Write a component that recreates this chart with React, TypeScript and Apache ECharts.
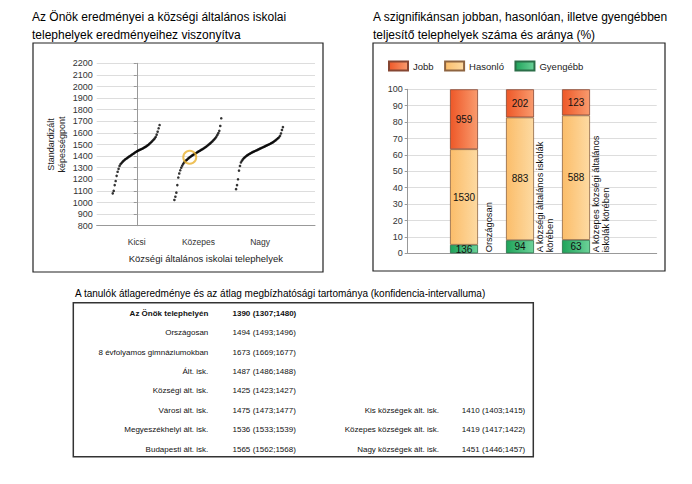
import React, { useEffect, useRef } from "react";
import * as echarts from "echarts";

// ---------- data: left chart (ranked school results) ----------
const groupNames = ["Kicsi", "Közepes", "Nagy"];
const kicsiScores = [1079, 1100, 1150, 1185, 1230, 1265, 1290, 1315, 1330, 1340, 1350, 1358, 1366, 1373, 1379, 1385, 1391, 1397, 1402, 1408, 1414, 1420, 1426, 1432, 1437, 1442, 1447, 1451, 1455, 1459, 1463, 1467, 1472, 1477, 1482, 1488, 1494, 1501, 1509, 1517, 1525, 1534, 1543, 1552, 1565, 1585, 1610, 1640, 1668];
const kozepesScores = [1022, 1050, 1085, 1150, 1215, 1250, 1278, 1300, 1318, 1333, 1345, 1355, 1363, 1370, 1378, 1385, 1392, 1398, 1404, 1410, 1415, 1420, 1425, 1431, 1436, 1441, 1446, 1451, 1456, 1461, 1466, 1472, 1478, 1484, 1491, 1498, 1505, 1512, 1520, 1528, 1537, 1546, 1556, 1568, 1582, 1598, 1618, 1660, 1726];
const nagyScores = [1115, 1150, 1200, 1275, 1315, 1345, 1360, 1372, 1382, 1390, 1397, 1404, 1410, 1415, 1420, 1425, 1430, 1434, 1438, 1442, 1446, 1450, 1454, 1458, 1462, 1466, 1470, 1474, 1478, 1482, 1486, 1490, 1494, 1498, 1502, 1506, 1511, 1516, 1521, 1527, 1533, 1540, 1547, 1554, 1562, 1575, 1595, 1625, 1650];
const schoolGroupIndex = 1;
const scoreAxisMin = 800;
const scoreAxisMax = 2200;
const scoreAxisInterval = 100;

// ---------- data: right chart ----------
const levelNames = ["Jobb", "Hasonló", "Gyengébb"];
const compCategories = ["Országosan", "A községi általános iskolák\nkörében", "A közepes községi általános\niskolák körében"];
const jobbCounts = [959, 202, 123];
const hasonloCounts = [1530, 883, 588];
const gyengebbCounts = [136, 94, 63];

// ---------- data: table ----------
const tableLabels = ["Az Önök telephelyén", "Országosan", "8 évfolyamos gimnáziumokban", "Ált. isk.", "Községi ált. isk.", "Városi ált. isk.", "Megyeszékhelyi ált. isk.", "Budapesti ált. isk."];
const tableMeans = [1390, 1494, 1673, 1487, 1425, 1475, 1536, 1565];
const tableLows = [1307, 1493, 1669, 1486, 1423, 1473, 1533, 1562];
const tableHighs = [1480, 1496, 1677, 1488, 1427, 1477, 1539, 1568];
const sideLabels = ["Kis községek ált. isk.", "Közepes községek ált. isk.", "Nagy községek ált. isk."];
const sideMeans = [1410, 1419, 1451];
const sideLows = [1403, 1417, 1446];
const sideHighs = [1415, 1422, 1457];

const leftTitle = "Az Önök eredményei a községi általános iskolai\ntelephelyek eredményeihez viszonyítva";
const rightTitle = "A szignifikánsan jobban, hasonlóan, illetve gyengébben\nteljesítő telephelyek száma és aránya (%)";
const tableTitle = "A tanulók átlageredménye és az átlag megbízhatósági tartománya (konfidencia-intervalluma)";
const yAxisTitle = "Standardizált\nképességpont";
const xAxisTitle = "Községi általános iskolai telephelyek";

const FONT = "'Liberation Sans', Arial, sans-serif";
const SPREAD_START = -0.39;
const SPREAD_WIDTH = 0.76;

function rankedPoints(scores: number[], g: number) {
  const n = scores.length;
  return scores.map((v, i) => [g + SPREAD_START + (i / (n - 1)) * SPREAD_WIDTH, v]);
}

function rankPosition(scores: number[], value: number, g: number) {
  const n = scores.length;
  let idx = 0;
  for (let i = 0; i < n - 1; i++) {
    if (scores[i] <= value && value <= scores[i + 1]) {
      idx = i + (value - scores[i]) / (scores[i + 1] - scores[i] || 1);
      break;
    }
  }
  return g + SPREAD_START + (idx / (n - 1)) * SPREAD_WIDTH;
}

function grad(a: string, b: string) {
  return new echarts.graphic.LinearGradient(0, 0, 1, 0, [
    { offset: 0, color: a },
    { offset: 1, color: b },
  ]);
}

export default function App() {
  const ref = useRef<HTMLDivElement>(null);

  useEffect(() => {
    document.body.style.margin = "0";
    const chart = echarts.init(ref.current!, null, { renderer: "svg" });

    const groups = [kicsiScores, kozepesScores, nagyScores];
    const totals = jobbCounts.map((v, i) => v + hasonloCounts[i] + gyengebbCounts[i]);
    const pct = (arr: number[]) => arr.map((v, i) => (v / totals[i]) * 100);

    const barDefs = [
      { name: levelNames[2], counts: gyengebbCounts, c: ["#1FA35A", "#6CD299"], border: "#2A6E48" },
      { name: levelNames[1], counts: hasonloCounts, c: ["#FBBD6A", "#FDDAA2"], border: "#8E6440" },
      { name: levelNames[0], counts: jobbCounts, c: ["#EE5828", "#F99B6E"], border: "#864632" },
    ];

    const scatterSeries = groups.map((scores, g) => ({
      type: "scatter",
      name: groupNames[g],
      xAxisIndex: 0,
      yAxisIndex: 0,
      symbolSize: 2.6,
      itemStyle: { color: "#000" },
      data: rankedPoints(scores, g),
      silent: true,
    }));

    const schoolScore = tableMeans[0];
    const ringSeries = {
      type: "scatter",
      xAxisIndex: 0,
      yAxisIndex: 0,
      symbol: "circle",
      symbolSize: 13,
      z: 5,
      itemStyle: { color: "rgba(0,0,0,0)", borderColor: "#EAB230", borderWidth: 2 },
      data: [[rankPosition(groups[schoolGroupIndex], schoolScore, schoolGroupIndex), schoolScore]],
      silent: true,
    };

    const barSeries = barDefs.map((d) => ({
      type: "bar",
      name: d.name,
      stack: "total",
      xAxisIndex: 2,
      yAxisIndex: 2,
      barWidth: 28,
      data: pct(d.counts),
      itemStyle: { color: grad(d.c[0], d.c[1]), borderColor: d.border, borderWidth: 0.8 },
      label: {
        show: true,
        position: "inside",
        formatter: (p: any) => String(d.counts[p.dataIndex]),
        fontSize: 10,
        color: "#111",
        fontFamily: FONT,
      },
      silent: true,
    }));

    const option: any = {
      animation: false,
      backgroundColor: "#fff",
      textStyle: { fontFamily: FONT },
      legend: {
        data: levelNames,
        left: 388,
        top: 60.5,
        padding: 0,
        itemWidth: 19,
        itemHeight: 9,
        itemGap: 10.5,
        icon: "rect",
        textStyle: { fontSize: 9.5, color: "#222", fontFamily: FONT },
        selectedMode: false,
      },
      grid: [
        { left: 96.7, top: 63.3, width: 218.3, height: 162.4 },
        { left: 407.7, top: 89.3, width: 249, height: 164 },
        { left: 436, top: 89.3, width: 168, height: 164 },
      ],
      xAxis: [
        {
          gridIndex: 0,
          type: "value",
          min: -0.65,
          max: 2.89,
          axisLine: { show: true, lineStyle: { color: "#999", width: 1 } },
          axisTick: { show: false },
          splitLine: { show: false },
          axisLabel: {
            show: true,
            customValues: [0, 1, 2],
            formatter: (v: number) => groupNames[Math.round(v)] ?? "",
            fontSize: 8.5,
            color: "#333",
            margin: 12,
          },
          name: xAxisTitle,
          nameLocation: "middle",
          nameGap: 27.5,
          nameTextStyle: { fontSize: 9.5, color: "#222" },
        },
        {
          gridIndex: 1,
          type: "value",
          min: 0,
          max: 1,
          axisLine: { show: true, lineStyle: { color: "#999", width: 1 } },
          axisTick: { show: false },
          axisLabel: { show: false },
          splitLine: { show: false },
        },
        {
          gridIndex: 2,
          type: "category",
          data: compCategories,
          show: false,
        },
      ],
      yAxis: [
        {
          gridIndex: 0,
          type: "value",
          min: scoreAxisMin,
          max: scoreAxisMax,
          interval: scoreAxisInterval,
          axisLine: { show: true, lineStyle: { color: "#999", width: 1 } },
          axisTick: { show: true, length: 3, lineStyle: { color: "#999" } },
          axisLabel: { fontSize: 9, color: "#333", margin: 4, formatter: (v: number) => String(v) },
          splitLine: { show: true, lineStyle: { color: "#DDDDDD", width: 1 } },
          name: yAxisTitle,
          nameLocation: "middle",
          nameRotate: 90,
          nameGap: 29,
          nameTextStyle: { fontSize: 9, color: "#222", lineHeight: 11 },
        },
        {
          gridIndex: 1,
          type: "value",
          min: 0,
          max: 100,
          interval: 10,
          axisLine: { show: true, lineStyle: { color: "#999", width: 1 } },
          axisTick: { show: true, length: 3, lineStyle: { color: "#999" } },
          axisLabel: { fontSize: 9, color: "#333", margin: 5 },
          splitLine: { show: true, lineStyle: { color: "#DDDDDD", width: 1 } },
        },
        {
          gridIndex: 2,
          type: "value",
          min: 0,
          max: 100,
          show: false,
          splitLine: { show: false },
        },
      ],
      series: [...scatterSeries, ringSeries, ...barSeries],
    };

    chart.setOption(option);

    // ---------- graphic overlay ----------
    const t = (x: number, y: number, text: string, o: any = {}) => ({
      type: "text",
      x,
      y,
      silent: true,
      rotation: o.rotation || 0,
      style: {
        text,
        fontFamily: FONT,
        fontSize: o.fontSize || 8,
        fontWeight: o.bold ? "bold" : "normal",
        fill: o.fill || "#111",
        align: o.align || "left",
        verticalAlign: o.verticalAlign || "middle",
        lineHeight: o.lineHeight,
      },
    });

    const graphics: any[] = [];
    graphics.push(t(32, 8.3, leftTitle, { fontSize: 12, lineHeight: 18, verticalAlign: "top", fill: "#000" }));
    graphics.push(t(373, 8.3, rightTitle, { fontSize: 12, lineHeight: 18, verticalAlign: "top", fill: "#000" }));
    graphics.push({ type: "rect", silent: true, shape: { x: 33, y: 43, width: 290, height: 229 }, style: { fill: "none", stroke: "#222", lineWidth: 1.2 } });
    graphics.push({ type: "rect", silent: true, shape: { x: 373, y: 43, width: 292, height: 228 }, style: { fill: "none", stroke: "#222", lineWidth: 1.2 } });

    // rotated category labels beside the bars
    const baseY = chart.convertToPixel({ yAxisIndex: 2 } as any, 0) as number;
    compCategories.forEach((name, i) => {
      const cx = chart.convertToPixel({ xAxisIndex: 2 } as any, i) as number;
      graphics.push(t(cx + 25, baseY - 1, name, { rotation: Math.PI / 2, fontSize: 9.3, lineHeight: 10, fill: "#111" }));
    });

    // table
    graphics.push(t(75, 293.3, tableTitle, { fontSize: 10, fill: "#000" }));
    graphics.push({ type: "rect", silent: true, shape: { x: 73.3, y: 302.7, width: 460, height: 154 }, style: { fill: "none", stroke: "#333", lineWidth: 1.5 } });
    const rowY0 = 313.3;
    const rowStep = 19.4;
    tableLabels.forEach((lab, i) => {
      const y = rowY0 + i * rowStep;
      const bold = i === 0;
      graphics.push(t(208.3, y, lab, { align: "right", bold }));
      graphics.push(t(232.5, y, String(tableMeans[i]), { bold }));
      graphics.push(t(252.7, y, `(${tableLows[i]};${tableHighs[i]})`, { bold }));
    });
    const sideStart = tableLabels.length - sideLabels.length;
    sideLabels.forEach((lab, j) => {
      const y = rowY0 + (sideStart + j) * rowStep;
      graphics.push(t(439, y, lab, { align: "right" }));
      graphics.push(t(461.8, y, String(sideMeans[j])));
      graphics.push(t(482.1, y, `(${sideLows[j]};${sideHighs[j]})`));
    });

    chart.setOption({ graphic: graphics });

    return () => chart.dispose();
  }, []);

  return <div ref={ref} style={{ width: 692, height: 484, background: "#fff" }} />;
}
